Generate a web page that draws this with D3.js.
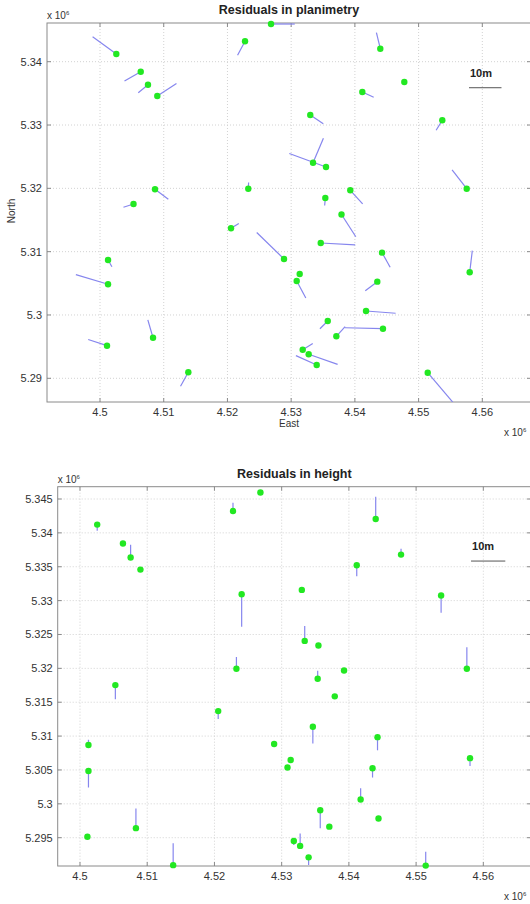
<!DOCTYPE html>
<html>
<head>
<meta charset="utf-8">
<script src="https://cdn.jsdelivr.net/npm/d3@7"></script>
<style>
  body { margin: 0; background: #fff; }
  svg { display: block; font-family: "Liberation Sans", Arial, sans-serif; }
</style>
</head>
<body>
<script>
// station coordinates (m, easting / northing) and residuals (m)
var planE = [4502560, 4506390, 4507530, 4508990, 4522760, 4526840, 4508630, 4505260, 4523270, 4543990,
             4547760, 4541170, 4533000, 4553720, 4533430, 4535470, 4557550, 4539280, 4535360, 4537900,
             4534640, 4528880, 4544260, 4558020, 4531340, 4530870, 4543520, 4541750, 4535740, 4544410,
             4537090, 4531810, 4532750, 4534010, 4551430, 4520560, 4501260, 4501260, 4501100, 4508320,
             4513860];
var planN = [5341220, 5338420, 5336370, 5334580, 5343220, 5345950, 5319850, 5317530, 5319940, 5342050,
             5336790, 5335210, 5331580, 5330750, 5324050, 5323370, 5319940, 5319690, 5318470, 5315870,
             5311370, 5308840, 5309840, 5306740, 5306470, 5305370, 5305260, 5300630, 5299050, 5297830,
             5296630, 5294520, 5293790, 5292100, 5290880, 5313690, 5308680, 5304850, 5295150, 5296410,
             5290950];
var planDE = [-7.3, -5.0, -3.0, 5.9, -2.3, 7.3, 4.1, -3.1, 0.1, -1.2,
              0.2, 3.5, 4.0, -1.9, 3.2, -11.3, -4.5, 3.8, -0.2, 4.4,
              10.6, -8.4, 2.5, 0.8, 0.0, 2.8, -3.7, 9.1, -2.4, -11.7,
              2.7, 3.1, 8.9, -6.4, 7.7, 2.4, 1.2, -9.9, -5.8, -1.6,
              -2.4];
var planDN = [5.3, -2.9, -2.5, 3.9, -4.3, 0.0, -3.1, -1.0, 1.9, 5.0,
              0.1, -1.6, -2.7, -3.1, 7.6, 4.2, 5.8, -4.2, -2.3, -6.9,
              -0.6, 8.2, -4.5, 6.7, 0.0, -5.3, -2.8, -0.7, -2.4, 0.3,
              3.0, 1.9, -3.1, 2.9, -9.1, 1.5, -2.1, 3.0, 1.9, 5.5,
              -4.3];

var heightE = [4502560, 4506390, 4507530, 4508990, 4522760, 4526840, 4524050, 4505260, 4523270, 4543990,
               4547760, 4541170, 4533000, 4553720, 4533430, 4535470, 4557550, 4539280, 4535360, 4537900,
               4534640, 4528880, 4544260, 4558020, 4531340, 4530870, 4543520, 4541750, 4535740, 4544410,
               4537090, 4531810, 4532750, 4534010, 4551430, 4520560, 4501260, 4501260, 4501100, 4508320,
               4513860];
var heightN = [5341220, 5338420, 5336370, 5334580, 5343220, 5345950, 5330940, 5317530, 5319940, 5342050,
               5336790, 5335210, 5331580, 5330750, 5324050, 5323370, 5319940, 5319690, 5318470, 5315870,
               5311370, 5308840, 5309840, 5306740, 5306470, 5305370, 5305260, 5300630, 5299050, 5297830,
               5296630, 5294520, 5293790, 5292100, 5290880, 5313690, 5308680, 5304850, 5295150, 5296410,
               5290950];
var heightDH = [-1.8, 0, 3.7, 0, 2.4, 0, -9.4, -4.1, 3.4, 6.4,
                1.7, -3.2, 0, -5.0, 4.3, 0, 6.2, 0, 2.3, 0,
                -4.8, 0, -3.8, -2.3, 0, 0, -2.7, 3.3, -5.2, 0,
                0, -1.2, 3.6, -2.2, 4.0, -2.3, 1.5, -4.8, 0, 5.7,
                6.3];

var xTicks = [4500000, 4510000, 4520000, 4530000, 4540000, 4550000, 4560000];
var yTicksPlan = [5290000, 5300000, 5310000, 5320000, 5330000, 5340000];
var yTicksHeight = [5295000, 5300000, 5305000, 5310000, 5315000, 5320000, 5325000, 5330000, 5335000, 5340000, 5345000];

var magnify = 510;   // residual exaggeration: 10 m drawn as 5100 m
var barLength = 10;  // scale bar, m

var svg = d3.select('body').append('svg')
    .attr('width', 530)
    .attr('height', 904);

function fmt(d) { return String(+(d / 1e6).toFixed(3)); }

function panel(o) {
    var x = d3.scaleLinear().domain(o.xdom).range([o.left, o.right]);
    var y = d3.scaleLinear().domain(o.ydom).range([o.bottom, o.top]);
    var g = svg.append('g');
    var id = 'clip' + o.name;

    g.append('clipPath').attr('id', id).append('rect')
        .attr('x', o.left).attr('y', o.top)
        .attr('width', o.right - o.left).attr('height', o.bottom - o.top);

    // grid, dotted
    g.selectAll('.gx').data(xTicks).enter().append('line')
        .attr('x1', x).attr('x2', x).attr('y1', o.top).attr('y2', o.bottom)
        .attr('stroke', '#d2d2d2').attr('stroke-dasharray', '1,2');
    g.selectAll('.gy').data(o.yTicks).enter().append('line')
        .attr('y1', y).attr('y2', y).attr('x1', o.left).attr('x2', o.right)
        .attr('stroke', '#d2d2d2').attr('stroke-dasharray', '1,2');

    // box and inward ticks
    g.append('rect')
        .attr('x', o.left).attr('y', o.top)
        .attr('width', o.right - o.left).attr('height', o.bottom - o.top)
        .attr('fill', 'none').attr('stroke', '#8a8a8a');
    xTicks.forEach(function (t) {
        g.append('line').attr('x1', x(t)).attr('x2', x(t)).attr('y1', o.bottom).attr('y2', o.bottom - 4).attr('stroke', '#8a8a8a');
        g.append('line').attr('x1', x(t)).attr('x2', x(t)).attr('y1', o.top).attr('y2', o.top + 4).attr('stroke', '#8a8a8a');
    });
    o.yTicks.forEach(function (t) {
        g.append('line').attr('y1', y(t)).attr('y2', y(t)).attr('x1', o.left).attr('x2', o.left + 4).attr('stroke', '#8a8a8a');
        g.append('line').attr('y1', y(t)).attr('y2', y(t)).attr('x1', o.right).attr('x2', o.right - 4).attr('stroke', '#8a8a8a');
    });

    // tick labels
    g.selectAll('.xl').data(xTicks).enter().append('text')
        .attr('x', x).attr('y', o.bottom + 14)
        .attr('text-anchor', 'middle').attr('font-size', '11px').attr('fill', '#333')
        .text(fmt);
    g.selectAll('.yl').data(o.yTicks).enter().append('text')
        .attr('x', o.left - 5).attr('y', function (d) { return y(d) + 4; })
        .attr('text-anchor', 'end').attr('font-size', '11px').attr('fill', '#333')
        .text(fmt);

    // exponent labels
    var e1 = g.append('text').attr('x', o.left).attr('y', o.top - 4)
        .attr('font-size', '10px').attr('fill', '#333').text('x 10');
    e1.append('tspan').attr('dy', -4).attr('font-size', '6px').text('6');
    var e2 = g.append('text').attr('x', o.xExp).attr('y', o.bottom + 34)
        .attr('font-size', '10px').attr('fill', '#333').text('x 10');
    e2.append('tspan').attr('dy', -4).attr('font-size', '6px').text('6');

    // title
    g.append('text')
        .attr('x', (o.left + o.right) / 2).attr('y', o.top - 9)
        .attr('text-anchor', 'middle').attr('font-size', '12.5px').attr('font-weight', 'bold').attr('fill', '#222')
        .text(o.title);

    // residual vectors
    g.append('g').attr('clip-path', 'url(#' + id + ')')
        .selectAll('line').data(o.vecs).enter().append('line')
        .attr('x1', function (d) { return x(d.e); })
        .attr('y1', function (d) { return y(d.n); })
        .attr('x2', function (d) { return x(d.e + d.de * magnify); })
        .attr('y2', function (d) { return y(d.n + d.dn * magnify); })
        .attr('stroke', '#8686ee').attr('stroke-width', 1.2);

    // stations
    g.selectAll('circle').data(o.vecs).enter().append('circle')
        .attr('cx', function (d) { return x(d.e); })
        .attr('cy', function (d) { return y(d.n); })
        .attr('r', 3.2)
        .attr('fill', '#22e822');

    // scale bar
    g.append('line')
        .attr('x1', x(o.bar[0])).attr('x2', x(o.bar[0] + barLength * magnify))
        .attr('y1', y(o.bar[1])).attr('y2', y(o.bar[1]))
        .attr('stroke', '#555').attr('stroke-width', 1);
    g.append('text')
        .attr('x', x(o.bar[0]) + 1).attr('y', y(o.bar[1]) - 11)
        .attr('font-size', '11px').attr('font-weight', 'bold').attr('fill', '#222')
        .text(barLength + 'm');

    return {x: x, y: y};
}

var planVecs = planE.map(function (e, i) { return {e: e, n: planN[i], de: planDE[i], dn: planDN[i]}; });
var heightVecs = heightE.map(function (e, i) { return {e: e, n: heightN[i], de: 0, dn: heightDH[i]}; });

var p1 = panel({
    name: 'plan', title: 'Residuals in planimetry',
    left: 47, right: 531, top: 23, bottom: 402,
    xdom: [4491680, 4567640], ydom: [5286257, 5346112],
    yTicks: yTicksPlan, vecs: planVecs, bar: [4557910, 5335890], xExp: 504
});

svg.append('text')
    .attr('x', (47 + 531) / 2).attr('y', 427)
    .attr('text-anchor', 'middle').attr('font-size', '10px').attr('fill', '#333')
    .text('East');
svg.append('text')
    .attr('transform', 'translate(15, 211) rotate(-90)')
    .attr('text-anchor', 'middle').attr('font-size', '10px').attr('fill', '#333')
    .text('North');

var p2 = panel({
    name: 'height', title: 'Residuals in height',
    left: 57.7, right: 531, top: 486.7, bottom: 866,
    xdom: [4496683, 4567093], ydom: [5290822, 5346816],
    yTicks: yTicksHeight, vecs: heightVecs, bar: [4558170, 5335840], xExp: 504
});
</script>
</body>
</html>
